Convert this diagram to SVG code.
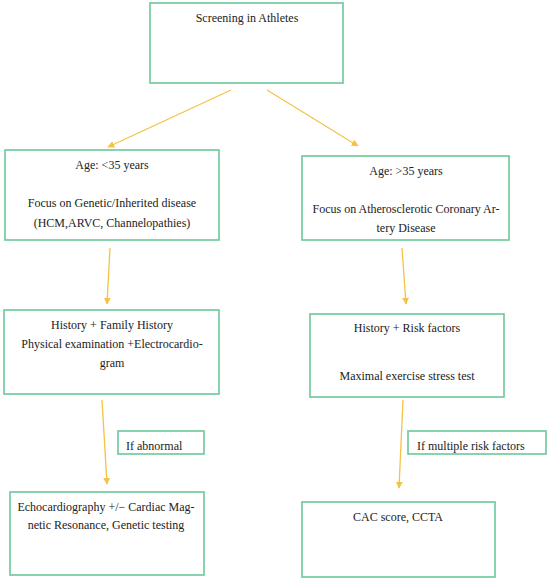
<svg xmlns="http://www.w3.org/2000/svg" width="550" height="580" viewBox="0 0 550 580">
<style>
.box{fill:#fff;stroke:#6cc79a;stroke-width:1.6}
.t{font-family:"Liberation Serif","DejaVu Serif",serif;font-size:12px;fill:#222;text-anchor:middle}
.tl{font-family:"Liberation Serif","DejaVu Serif",serif;font-size:12px;fill:#222}
.c{stroke:#f5c246;stroke-width:1.3;fill:none;marker-end:url(#ah)}
</style>
<defs>
<marker id="ah" viewBox="0 0 10 10" refX="9" refY="5" markerWidth="7" markerHeight="7" markerUnits="userSpaceOnUse" orient="auto">
<path d="M0,0 L10,5 L0,10 z" fill="#f5c246"/>
</marker>
</defs>
<rect width="550" height="580" fill="#fff"/>
<g id="connectors">
<line class="c" x1="231" y1="90" x2="108" y2="147"/>
<line class="c" x1="267" y1="90" x2="358" y2="146"/>
<line class="c" x1="110" y1="248" x2="107" y2="304"/>
<line class="c" x1="402" y1="248" x2="406" y2="304"/>
<line class="c" x1="102" y1="400" x2="107" y2="484"/>
<line class="c" x1="403" y1="400" x2="399" y2="488"/>
</g>
<g id="n-screening">
<rect class="box" x="150" y="3" width="193" height="80"/>
<text class="t" x="247" y="22">Screening in Athletes</text>
</g>
<g id="n-under35">
<rect class="box" x="5" y="150" width="214" height="90"/>
<text class="t" x="112" y="169">Age: &lt;35 years</text>
<text class="t" x="112" y="207">Focus on Genetic/Inherited disease</text>
<text class="t" x="112" y="227">(HCM,ARVC, Channelopathies)</text>
</g>
<g id="n-over35">
<rect class="box" x="302" y="156" width="207" height="84"/>
<text class="t" x="406" y="175">Age: &gt;35 years</text>
<text class="t" x="406" y="213">Focus on Atherosclerotic Coronary Ar-</text>
<text class="t" x="406" y="232">tery Disease</text>
</g>
<g id="n-history-family">
<rect class="box" x="4" y="310" width="215" height="84"/>
<text class="t" x="112" y="329">History + Family History</text>
<text class="t" x="112" y="348">Physical examination +Electrocardio-</text>
<text class="t" x="112" y="367">gram</text>
</g>
<g id="n-history-risk">
<rect class="box" x="310" y="314" width="194" height="83"/>
<text class="t" x="407" y="332">History + Risk factors</text>
<text class="t" x="407" y="380">Maximal exercise stress test</text>
</g>
<g id="n-if-abnormal">
<rect class="box" x="118" y="431" width="86" height="23"/>
<text class="tl" x="126" y="450">If abnormal</text>
</g>
<g id="n-if-multiple">
<rect class="box" x="408" y="431" width="138" height="23"/>
<text class="tl" x="417" y="450">If multiple risk factors</text>
</g>
<g id="n-echo">
<rect class="box" x="10" y="492" width="194" height="83"/>
<text class="t" x="106" y="511">Echocardiography +/− Cardiac Mag-</text>
<text class="t" x="106" y="529">netic Resonance, Genetic testing</text>
</g>
<g id="n-cac">
<rect class="box" x="302" y="502" width="193" height="75"/>
<text class="t" x="398" y="521">CAC score, CCTA</text>
</g>
</svg>
